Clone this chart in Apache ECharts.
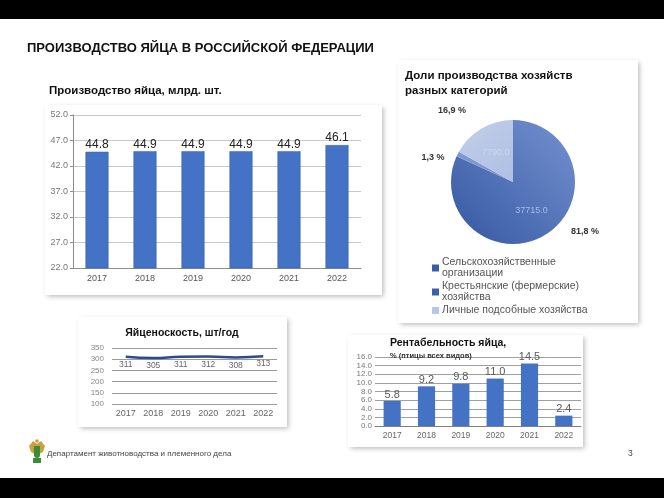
<!DOCTYPE html>
<html><head><meta charset="utf-8">
<script src="https://cdn.jsdelivr.net/npm/echarts@6/dist/echarts.min.js"></script>
<style>html,body{margin:0;padding:0;background:#fff}#c{width:664px;height:498px}</style>
</head><body><div id="c"></div>
<script>
// ---- data ----
const years = ['2017', '2018', '2019', '2020', '2021', '2022'];
const production = [44.8, 44.9, 44.9, 44.9, 44.9, 46.1];          // млрд. шт.
const shareNames = ['Сельскохозяйственные\nорганизации', 'Крестьянские (фермерские)\nхозяйства', 'Личные подсобные хозяйства'];
const shareValues = [37715.0, 600.0, 7790.0];
const eggRate = [311, 305, 311, 312, 308, 313];                    // шт/год
const profit = [5.8, 9.2, 9.8, 11.0, 14.5, 2.4];                   // %
const prodAxis = { min: 22, max: 52, step: 5 };
const rateAxis = { min: 100, max: 350, step: 50 };
const profitAxis = { min: 0, max: 16, step: 2 };

// ---- styling / layout ----
const FONT = '"Liberation Sans", Arial, sans-serif';
const pctLabelPos = [[585, 232], [433, 158], [452, 111]];
const sliceColors = [
  { type: 'linear', x: 1, y: 0, x2: 0, y2: 1, colorStops: [{ offset: 0, color: '#7592d0' }, { offset: 1, color: '#3557a2' }] },
  '#7e98d2',
  { type: 'linear', x: 0, y: 0, x2: 1, y2: 1, colorStops: [{ offset: 0, color: '#c3cfea' }, { offset: 1, color: '#aebfe2' }] }
];
const legendColors = ['#3b5ca6', '#3d60ad', '#b9c7e6'];

const chart = echarts.init(document.getElementById('c'), null, { renderer: 'canvas' });

function card(x, y, w, h) {
  return { type: 'rect', z: 0, shape: { x, y, width: w, height: h },
    style: { fill: '#fff', shadowBlur: 5, shadowColor: 'rgba(0,0,0,0.28)', shadowOffsetX: 1.5, shadowOffsetY: 1.5 } };
}
function txt(x, y, text, size, weight, color, align) {
  return { type: 'text', z: 100, x, y, style: { text, font: (weight || 'normal') + ' ' + size + 'px ' + FONT,
    fill: color || '#000', textAlign: align || 'left', textVerticalAlign: 'middle' } };
}

const option = {
  animation: false,
  textStyle: { fontFamily: FONT },
  graphic: [
    { type: 'rect', z: 0, shape: { x: 0, y: 0, width: 664, height: 19 }, style: { fill: '#000' } },
    { type: 'rect', z: 0, shape: { x: 0, y: 478, width: 664, height: 20 }, style: { fill: '#000' } },
    card(45, 105, 337, 190),
    card(398, 60, 240, 263),
    card(78, 317, 209, 110),
    card(348, 335, 235, 112),
    txt(27, 48, 'ПРОИЗВОДСТВО ЯЙЦА В РОССИЙСКОЙ ФЕДЕРАЦИИ', 13, 'bold', '#111'),
    txt(49, 91, 'Производство яйца, млрд. шт.', 11.5, 'bold', '#111'),
    txt(405, 76, 'Доли производства хозяйств', 11.5, 'bold', '#111'),
    txt(405, 91, 'разных категорий', 11.5, 'bold', '#111'),
    txt(182, 333, 'Яйценоскость, шт/год', 10.5, 'bold', '#111', 'center'),
    txt(390, 343, 'Рентабельность яйца,', 10.5, 'bold', '#111'),
    txt(390, 356, '% (птицы всех видов)', 7.5, 'bold', '#333'),
    txt(47, 454, 'Департамент животноводства и племенного дела', 8, 'normal', '#444'),
    txt(628, 454, '3', 8.5, 'normal', '#444'),
    // emblem
    { type: 'polygon', z: 100, shape: { points: [[29, 446], [33, 441], [37, 444], [41, 441], [45, 446], [43, 452], [37, 455], [31, 452]] }, style: { fill: '#c9a23c' } },
    { type: 'rect', z: 101, shape: { x: 34, y: 446, width: 6, height: 12, r: [0, 0, 3, 3] }, style: { fill: '#3f8a3a' } },
    { type: 'circle', z: 101, shape: { cx: 37, cy: 441, r: 1.8 }, style: { fill: '#c9a23c' } },
    { type: 'rect', z: 101, shape: { x: 33, y: 458, width: 8, height: 5 }, style: { fill: '#3f8a3a' } }
  ],
  legend: {
    orient: 'vertical', left: 427, top: 252, itemWidth: 7, itemHeight: 7, itemGap: 2,
    icon: 'rect', selectedMode: false,
    textStyle: { fontSize: 10.5, lineHeight: 11, color: '#555', padding: [0, 0, 0, -2] },
    data: shareNames.map((n, i) => ({ name: n, itemStyle: { color: legendColors[i] } }))
  },
  grid: [
    { left: 73, top: 115, width: 288, height: 153 },
    { left: 112, top: 348, width: 165, height: 56 },
    { left: 375, top: 357, width: 206, height: 69 }
  ],
  xAxis: [
    { type: 'category', gridIndex: 0, data: years,
      axisLine: { lineStyle: { color: '#8c8c8c' } }, axisTick: { length: 4, lineStyle: { color: '#8c8c8c' } },
      axisLabel: { fontSize: 9, color: '#555', margin: 6 } },
    { type: 'category', gridIndex: 1, data: years,
      axisLine: { show: false }, axisTick: { show: false },
      axisLabel: { fontSize: 9, color: '#666', margin: 5 } },
    { type: 'category', gridIndex: 2, data: years,
      axisLine: { lineStyle: { color: '#7f7f7f' } }, axisTick: { show: false },
      axisLabel: { fontSize: 8.5, color: '#666', margin: 5 } }
  ],
  yAxis: [
    { type: 'value', gridIndex: 0, min: prodAxis.min, max: prodAxis.max, interval: prodAxis.step,
      axisLine: { show: true, lineStyle: { color: '#8c8c8c' } }, axisTick: { show: true, length: 3, lineStyle: { color: '#8c8c8c' } },
      splitLine: { lineStyle: { color: '#c8c8c8' } },
      axisLabel: { fontSize: 9, color: '#777', margin: 5, formatter: v => v.toFixed(1) } },
    { type: 'value', gridIndex: 1, min: rateAxis.min, max: rateAxis.max, interval: rateAxis.step,
      axisLine: { show: false }, axisTick: { show: false },
      splitLine: { lineStyle: { color: '#9a9a9a' } },
      axisLabel: { fontSize: 8, color: '#888', margin: 8 } },
    { type: 'value', gridIndex: 2, min: profitAxis.min, max: profitAxis.max, interval: profitAxis.step,
      axisLine: { show: false }, axisTick: { show: false },
      splitLine: { lineStyle: { color: '#a0a0a0' } },
      axisLabel: { fontSize: 8, lineHeight: 7, height: 7, color: '#777', margin: 3, showMinLabel: true, showMaxLabel: true, hideOverlap: false,
        formatter: v => v.toFixed(1) } }
  ],
  series: [
    { type: 'bar', xAxisIndex: 0, yAxisIndex: 0, data: production, barWidth: '48%',
      itemStyle: { color: '#4472c4', borderColor: '#3a63ad', borderWidth: 0.5 },
      label: { show: true, position: 'top', distance: 1, fontSize: 12, color: '#222', formatter: p => p.value.toFixed(1) } },
    { type: 'line', xAxisIndex: 1, yAxisIndex: 1, data: eggRate, smooth: true, symbol: 'circle', symbolSize: 0.5, showSymbol: true,
      itemStyle: { color: 'rgba(45,74,140,0)', borderWidth: 0 },
      lineStyle: { color: '#2d4a8c', width: 2.5 },
      labelLayout: { hideOverlap: false },
      label: { show: true, position: 'bottom', distance: 3, fontSize: 8.5, color: '#666' } },
    { type: 'bar', xAxisIndex: 2, yAxisIndex: 2, data: profit, barWidth: '50%',
      itemStyle: { color: '#4472c4' },
      label: { show: true, position: 'top', distance: 1, fontSize: 11, color: '#595959', formatter: p => p.value.toFixed(1) } },
    { type: 'pie', center: [513, 182], radius: 62, startAngle: 90, clockwise: true,
      data: shareNames.map((n, i) => ({ name: n, value: shareValues[i], itemStyle: { color: sliceColors[i] },
        label: { show: i !== 1, color: i === 0 ? '#a7bbe4' : '#cdd7ee' } })),
      label: { position: 'inside', fontSize: 9, formatter: p => p.value.toFixed(1) },
      labelLine: { show: false }, emphasis: { disabled: true } },
    { type: 'pie', center: [513, 182], radius: 62, startAngle: 90, clockwise: true, silent: true, z: 3,
      data: shareNames.map((n, i) => ({ name: n, value: shareValues[i], itemStyle: { color: 'rgba(0,0,0,0)' } })),
      label: { position: 'outside', fontSize: 9, fontWeight: 'bold', color: '#333',
        formatter: p => p.percent.toFixed(1).replace('.', ',') + ' %' },
      labelLine: { show: false },
      labelLayout: p => ({ x: pctLabelPos[p.dataIndex][0], y: pctLabelPos[p.dataIndex][1], align: 'center', verticalAlign: 'middle' }) }
  ]
};
chart.setOption(option);
</script></body></html>
